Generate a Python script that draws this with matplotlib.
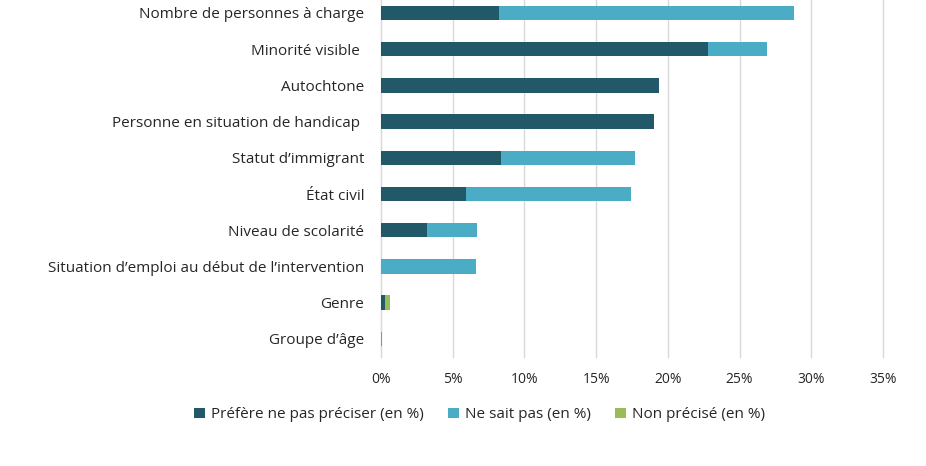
import matplotlib

matplotlib.use("Agg")
import matplotlib.pyplot as plt
import numpy as np

# categories top -> bottom, as in the chart
categories = [
    "Nombre de personnes à charge",
    "Minorité visible ",
    "Autochtone",
    "Personne en situation de handicap ",
    "Statut d\u2019immigrant",
    "État civil",
    "Niveau de scolarité",
    "Situation d\u2019emploi au début de l\u2019intervention",
    "Genre",
    "Groupe d\u2019âge",
]
prefere = [8.2, 22.8, 19.4, 19.0, 8.4, 5.9, 3.2, 0.0, 0.3, 0.0]
ne_sait_pas = [20.6, 4.1, 0.0, 0.0, 9.3, 11.5, 3.5, 6.6, 0.0, 0.1]
non_precise = [0.0, 0.0, 0.0, 0.0, 0.0, 0.0, 0.0, 0.0, 0.3, 0.0]
series_names = ["Préfère ne pas préciser (en %)", "Ne sait pas (en %)", "Non précisé (en %)"]
xticks = [0, 5, 10, 15, 20, 25, 30, 35]

colors = ["#215968", "#4BACC6", "#9BBB59"]

plt.rcParams["font.family"] = ["Open Sans", "DejaVu Sans"]

fig = plt.figure(figsize=(9.26, 4.66), dpi=100)
ax = fig.add_axes([0.4114, 0.234, 0.5422, 0.777])

y = np.arange(len(categories))
left = np.zeros(len(categories))
for vals, name, c in zip([prefere, ne_sait_pas, non_precise], series_names, colors):
    ax.barh(y, vals, left=left, height=0.4, color=c, label=name, zorder=3)
    left += np.array(vals)

ax.set_ylim(len(categories) - 0.5, -0.5)
ax.set_yticks(y)
ax.set_yticklabels(categories, fontsize=11, color="#262626")
ax.set_xlim(0, 35)
ax.set_xticks(xticks)
ax.set_xticklabels([f"{t}%" for t in xticks], fontsize=10, color="#262626")
ax.tick_params(length=0)
ax.tick_params(axis="y", pad=12)
ax.tick_params(axis="x", pad=11)
ax.grid(axis="x", color="#D9D9D9", lw=1, zorder=0)
for gl in ax.get_xgridlines():
    gl.set_clip_on(False)
for s in ["top", "right", "bottom"]:
    ax.spines[s].set_visible(False)
ax.spines["left"].set_color("#D9D9D9")

fig.legend(
    loc="center",
    bbox_to_anchor=(0.518, 0.11),
    ncol=3,
    frameon=False,
    fontsize=11,
    handlelength=0.7,
    handleheight=0.7,
    handletextpad=0.4,
    columnspacing=1.6,
    labelcolor="#262626",
)

fig.savefig("out.png", dpi=100)
